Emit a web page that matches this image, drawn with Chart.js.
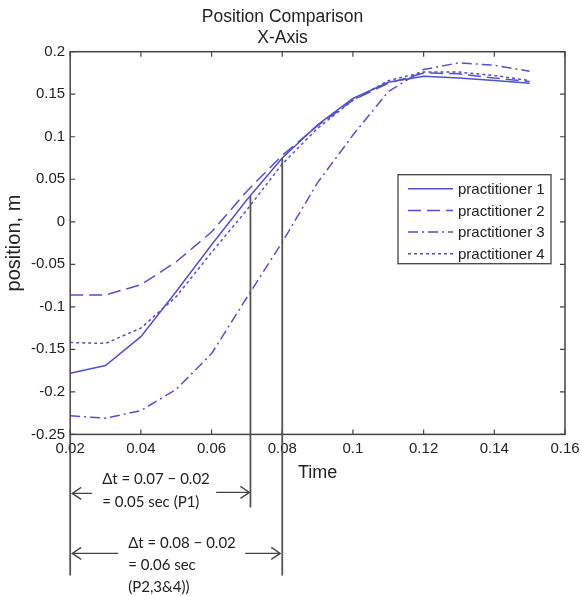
<!DOCTYPE html>
<html>
<head>
<meta charset="utf-8">
<script src="https://cdn.jsdelivr.net/npm/chart.js@4/dist/chart.umd.min.js"></script>
<style>
  html, body { margin: 0; padding: 0; background: #fff; }
  #wrap { width: 582px; height: 596px; }
</style>
</head>
<body>
<div id="wrap"><canvas id="mainChart" width="582" height="596"></canvas></div>
<script>
// time samples (s) and positions (m)
const times = [0.02, 0.03, 0.04, 0.05, 0.06, 0.07, 0.08, 0.09, 0.10, 0.11, 0.12, 0.13, 0.14, 0.15];
const practitioner1 = [-0.178, -0.169, -0.135, -0.082, -0.027, 0.026, 0.075, 0.114, 0.145, 0.164, 0.171, 0.169, 0.166, 0.163];
const practitioner2 = [-0.086, -0.086, -0.074, -0.047, -0.012, 0.036, 0.078, 0.113, 0.143, 0.163, 0.175, 0.174, 0.169, 0.165];
const practitioner3 = [-0.228, -0.231, -0.222, -0.197, -0.155, -0.089, -0.024, 0.046, 0.102, 0.153, 0.179, 0.187, 0.184, 0.177];
const practitioner4 = [-0.142, -0.143, -0.125, -0.088, -0.036, 0.014, 0.068, 0.110, 0.143, 0.166, 0.176, 0.176, 0.172, 0.166];
const seriesNames = ['practitioner 1', 'practitioner 2', 'practitioner 3', 'practitioner 4'];

// marker lines: x position and the y value where they start
const markerX = [0.071, 0.08];
const markerTop = [0.03, 0.075];

const blue = 'rgb(82,82,200)';
const ink = '#444';

function toPoints(values) {
    return times.map((t, i) => ({ x: t, y: values[i] }));
}

function niceTick(v) {
    return String(parseFloat(v.toFixed(3)));
}

// box around the axes with inward ticks on all four sides
const framePlugin = {
    id: 'frame',
    afterDatasetsDraw(chart) {
        const ctx = chart.ctx;
        const a = chart.chartArea;
        const xs = chart.scales.x, ys = chart.scales.y;
        ctx.save();
        ctx.strokeStyle = ink;
        ctx.lineWidth = 1.5;
        ctx.strokeRect(a.left, a.top, a.right - a.left, a.bottom - a.top);
        ctx.lineWidth = 1.2;
        ctx.beginPath();
        xs.ticks.forEach((t) => {
            const px = xs.getPixelForValue(t.value);
            ctx.moveTo(px, a.bottom); ctx.lineTo(px, a.bottom - 5);
            ctx.moveTo(px, a.top); ctx.lineTo(px, a.top + 5);
        });
        ys.ticks.forEach((t) => {
            const py = ys.getPixelForValue(t.value);
            ctx.moveTo(a.left, py); ctx.lineTo(a.left + 5, py);
            ctx.moveTo(a.right, py); ctx.lineTo(a.right - 5, py);
        });
        ctx.stroke();
        ctx.restore();
    }
};

function arrow(ctx, x1, x2, y) {
    // shaft from x1 to x2, open head at x2
    const dir = x2 > x1 ? 1 : -1;
    ctx.beginPath();
    ctx.moveTo(x1, y); ctx.lineTo(x2, y);
    ctx.moveTo(x2 - dir * 9, y - 6); ctx.lineTo(x2, y); ctx.lineTo(x2 - dir * 9, y + 6);
    ctx.stroke();
}

// delta-t markers and notes under the axis
const notesPlugin = {
    id: 'notes',
    afterDraw(chart) {
        const ctx = chart.ctx;
        const a = chart.chartArea;
        const xs = chart.scales.x, ys = chart.scales.y;
        const x0 = xs.getPixelForValue(times[0]);
        const x1 = xs.getPixelForValue(markerX[0]);
        const x2 = xs.getPixelForValue(markerX[1]);
        ctx.save();
        ctx.strokeStyle = '#555';
        ctx.lineWidth = 1.8;
        ctx.beginPath();
        ctx.moveTo(x1, ys.getPixelForValue(markerTop[0])); ctx.lineTo(x1, a.bottom + 73);
        ctx.moveTo(x2, ys.getPixelForValue(markerTop[1])); ctx.lineTo(x2, a.bottom + 141);
        ctx.moveTo(x0, a.bottom); ctx.lineTo(x0, a.bottom + 141);
        ctx.stroke();

        ctx.strokeStyle = '#444';
        ctx.lineWidth = 1.3;
        arrow(ctx, x0 + 22, x0 + 2, a.bottom + 59);
        arrow(ctx, x0 + 146, x1 - 1, a.bottom + 58);
        arrow(ctx, x0 + 48, x0 + 2, a.bottom + 119);
        arrow(ctx, x0 + 175, x2 - 2, a.bottom + 119);

        ctx.fillStyle = '#222';
        ctx.font = '15px Lato, "Open Sans", sans-serif';
        ctx.textBaseline = 'middle';
        ctx.textAlign = 'left';
        ctx.fillText('\u0394t = 0.07 \u2212 0.02', x0 + 32, a.bottom + 45);
        ctx.fillText('= 0.05 sec (P1)', x0 + 32, a.bottom + 68);
        ctx.fillText('\u0394t = 0.08 \u2212 0.02', x0 + 58, a.bottom + 109);
        ctx.fillText('= 0.06 sec', x0 + 58, a.bottom + 131);
        ctx.fillText('(P2,3&4))', x0 + 58, a.bottom + 153);
        ctx.restore();
    }
};

// MATLAB style legend box inside the axes
const legendPlugin = {
    id: 'boxLegend',
    afterDatasetsDraw(chart) {
        const ctx = chart.ctx;
        const a = chart.chartArea;
        const left = a.right - 167, top = a.top + 123, w = 153, h = 89;
        ctx.save();
        ctx.fillStyle = '#fff';
        ctx.fillRect(left, top, w, h);
        ctx.strokeStyle = ink;
        ctx.lineWidth = 1.3;
        ctx.strokeRect(left, top, w, h);
        chart.data.datasets.forEach((ds, i) => {
            const y = top + 14 + i * 21.7;
            ctx.strokeStyle = ds.borderColor;
            ctx.lineWidth = ds.borderWidth;
            ctx.setLineDash(ds.borderDash || []);
            ctx.beginPath();
            ctx.moveTo(left + 10, y); ctx.lineTo(left + 55, y);
            ctx.stroke();
            ctx.setLineDash([]);
            ctx.fillStyle = '#222';
            ctx.font = '15px "Liberation Sans", Arial, sans-serif';
            ctx.textBaseline = 'middle';
            ctx.fillText(ds.label, left + 60, y + 1);
        });
        ctx.restore();
    }
};

function setupChart() {
    const ctx = document.getElementById('mainChart').getContext('2d');
    const dashes = [[], [13, 6], [10, 4, 2, 4], [3, 3]];
    const values = [practitioner1, practitioner2, practitioner3, practitioner4];
    const data = {
        datasets: seriesNames.map((name, i) => ({
            label: name,
            data: toPoints(values[i]),
            borderColor: blue,
            borderWidth: 1.5,
            borderDash: dashes[i],
            pointRadius: 0,
            fill: false,
            tension: 0
        }))
    };
    const tickFont = { family: '"Liberation Sans", Arial, sans-serif', size: 15 };
    const config = {
        type: 'line',
        data: data,
        options: {
            responsive: false,
            animation: false,
            layout: { padding: { left: 0, right: 17, top: 0, bottom: 108 } },
            plugins: {
                legend: { display: false },
                tooltip: { enabled: false },
                title: {
                    display: true,
                    text: ['Position Comparison', 'X-Axis'],
                    color: '#222',
                    font: { family: '"Liberation Sans", Arial, sans-serif', size: 17.5, weight: 'normal', lineHeight: 1.22 },
                    padding: { top: 6, bottom: 3 }
                }
            },
            scales: {
                x: {
                    type: 'linear',
                    min: 0.02,
                    max: 0.16,
                    grid: { display: false, drawTicks: false },
                    border: { display: false },
                    ticks: { stepSize: 0.02, color: '#222', font: tickFont, padding: 5, callback: niceTick, maxRotation: 0 },
                    title: {
                        display: true, text: 'Time', color: '#222',
                        font: { family: '"Liberation Sans", Arial, sans-serif', size: 18 },
                        padding: { top: 0, bottom: 4 }
                    },
                    // let the last tick label hang into the right margin
                    afterFit(scale) { scale.paddingRight = 0; }
                },
                y: {
                    min: -0.25,
                    max: 0.2,
                    grid: { display: false, drawTicks: false },
                    border: { display: false },
                    ticks: { stepSize: 0.05, color: '#222', font: tickFont, padding: 5, callback: niceTick },
                    title: {
                        display: true, text: 'position, m', color: '#222',
                        font: { family: '"Liberation Sans", Arial, sans-serif', size: 20 },
                        padding: { top: 2, bottom: 0 }
                    }
                }
            }
        },
        plugins: [framePlugin, legendPlugin, notesPlugin]
    };
    return new Chart(ctx, config);
}

const mainChart = setupChart();
</script>
</body>
</html>
